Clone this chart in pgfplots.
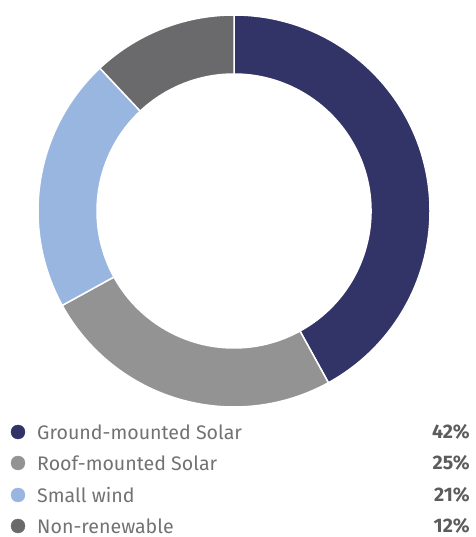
\documentclass[border=0pt]{standalone}
\usepackage{pgfplots}
\pgfplotsset{compat=1.18}
\usepackage{fontspec}
\setmainfont{Fira Sans}

\definecolor{navy}{HTML}{323366}
\definecolor{roof}{HTML}{939393}
\definecolor{wind}{HTML}{98B6E0}
\definecolor{nonren}{HTML}{6A696B}
\definecolor{txt}{HTML}{727272}
\definecolor{pct}{HTML}{5C5C5C}

% cumulative share of each slice, in percent
\def\shares{0/42/navy,42/67/roof,67/88/wind,88/100/nonren}
\def\Rout{196}
\def\Rin{137}

\begin{document}
\begin{tikzpicture}[lab/.style={inner sep=0pt, text=txt, font=\fontsize{19.6}{19.6}\selectfont}]
\begin{axis}[
    x=1pt, y=1pt,
    xmin=-234, xmax=241, ymin=-326, ymax=211,
    hide axis, clip=false,
]
\path (axis cs:-234,-326) rectangle (axis cs:241,211);
\coordinate (O) at (axis cs:0,0);
% legend
\addplot[only marks, mark=*, mark size=7pt, navy] coordinates {(-216,-221)};
\addplot[only marks, mark=*, mark size=7pt, roof] coordinates {(-216,-252)};
\addplot[only marks, mark=*, mark size=7pt, wind] coordinates {(-216,-284)};
\addplot[only marks, mark=*, mark size=7pt, nonren] coordinates {(-216,-315)};
\node[lab, anchor=west] at (axis cs:-197,-221) {Ground-mounted Solar};
\node[lab, anchor=west] at (axis cs:-197,-252) {Roof-mounted Solar};
\node[lab, anchor=west] at (axis cs:-197,-284) {Small wind};
\node[lab, anchor=west] at (axis cs:-197,-315) {Non-renewable};
\node[lab, text=pct, anchor=east, font=\fontsize{19.6}{19.6}\selectfont\bfseries] at (axis cs:236,-221) {42\%};
\node[lab, text=pct, anchor=east, font=\fontsize{19.6}{19.6}\selectfont\bfseries] at (axis cs:236,-252) {25\%};
\node[lab, text=pct, anchor=east, font=\fontsize{19.6}{19.6}\selectfont\bfseries] at (axis cs:236,-284) {21\%};
\node[lab, text=pct, anchor=east, font=\fontsize{19.6}{19.6}\selectfont\bfseries] at (axis cs:236,-315) {12\%};
\end{axis}
% donut, clockwise from the top, centred on the axis origin
\foreach \a/\b/\col in \shares {
  \pgfmathsetmacro{\sa}{90-3.6*\a}
  \pgfmathsetmacro{\sb}{90-3.6*\b}
  \fill[\col, draw=white, line width=1.5pt]
    ([shift={(\sa:\Rout pt)}]O) arc[start angle=\sa, end angle=\sb, radius=\Rout pt]
    -- ([shift={(\sb:\Rin pt)}]O) arc[start angle=\sb, end angle=\sa, radius=\Rin pt] -- cycle;
}
\end{tikzpicture}
\end{document}
